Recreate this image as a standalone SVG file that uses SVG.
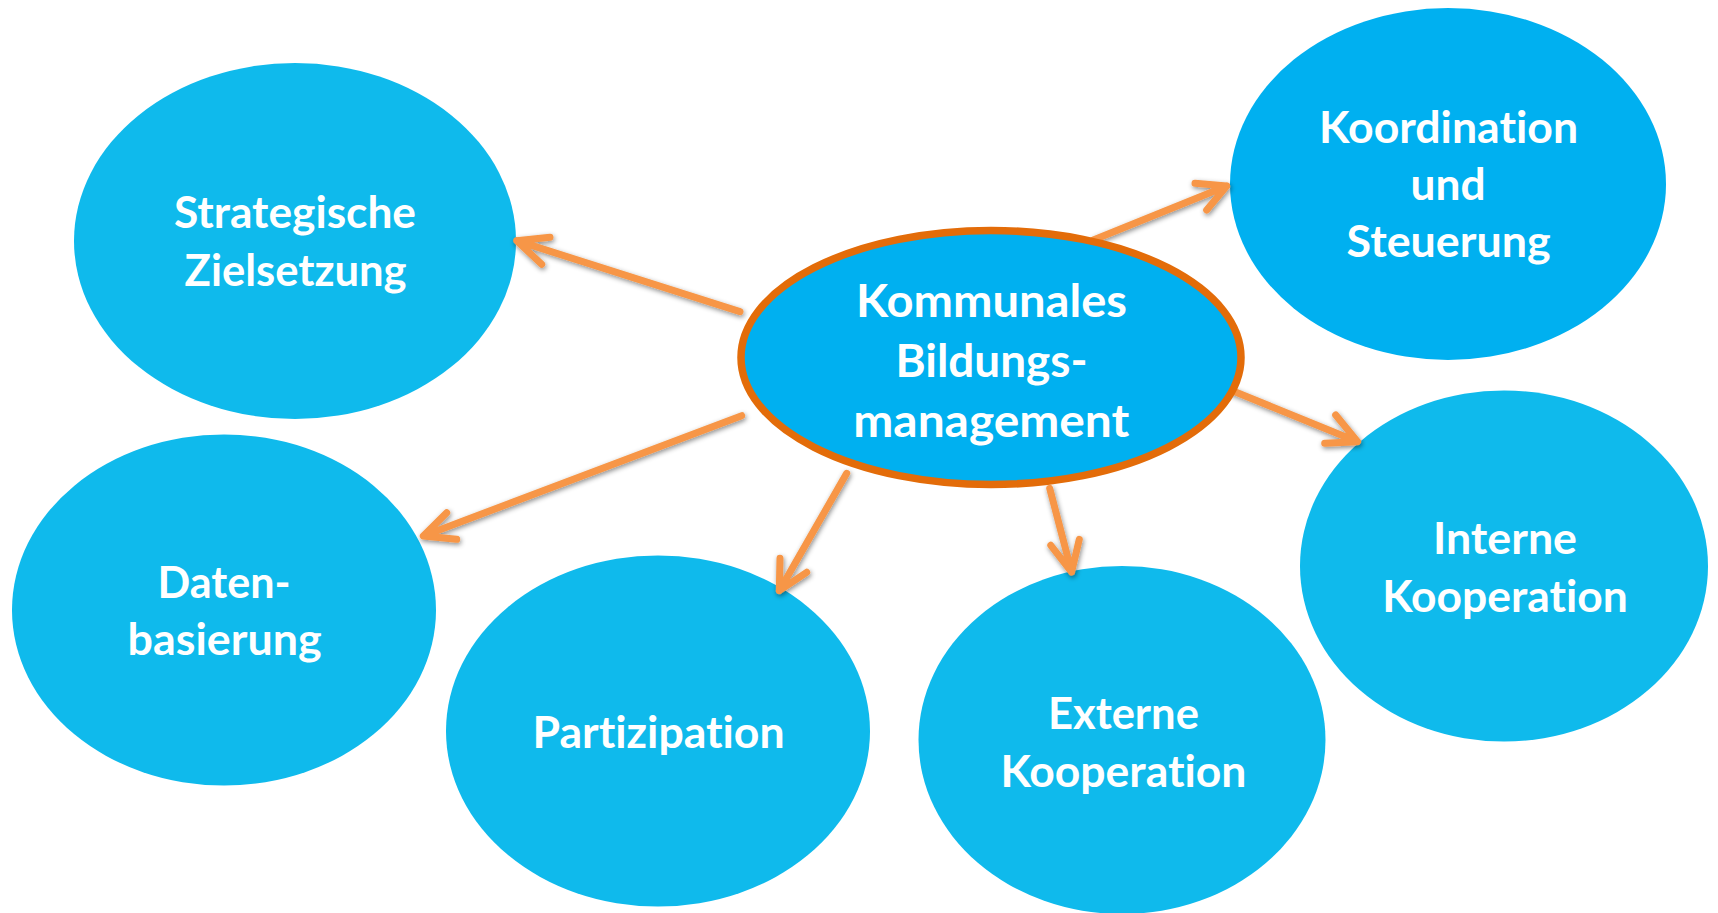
<svg xmlns="http://www.w3.org/2000/svg" width="1718" height="913" viewBox="0 0 1718 913">
<defs>
<filter id="sh" x="-20%" y="-20%" width="140%" height="140%">
<feDropShadow dx="1" dy="2" stdDeviation="2.5" flood-color="#000" flood-opacity="0.45"/>
</filter>
<style>
.n{fill:#0FBAEC}
.d{fill:#00B0F0}
.c{fill:#00B0F0;stroke:#E36C09;stroke-width:7.5}
.t{font-family:Lato,"Open Sans","Liberation Sans",sans-serif;font-weight:700;font-size:44px;fill:#fff;text-anchor:middle;font-variant-ligatures:none;font-feature-settings:"liga" 0,"clig" 0}
.tc{font-size:46px}
.a{fill:none;stroke:#F79646;stroke-width:7;stroke-linecap:round;stroke-linejoin:round}
</style>
</defs>
<rect width="1718" height="913" fill="#fff"/>
<g id="node-strategische">
<ellipse class="n" cx="295" cy="241" rx="221" ry="178"/>
<text class="t" x="295" y="228" textLength="242" lengthAdjust="spacingAndGlyphs">Strategische</text>
<text class="t" x="295.6" y="286" textLength="222" lengthAdjust="spacingAndGlyphs">Zielsetzung</text>
</g>
<g id="node-koordination">
<ellipse class="d" cx="1448" cy="184" rx="218" ry="176"/>
<text class="t" x="1448.6" y="142.7" textLength="259" lengthAdjust="spacingAndGlyphs">Koordination</text>
<text class="t" x="1448" y="200" textLength="75" lengthAdjust="spacingAndGlyphs">und</text>
<text class="t" x="1448.6" y="257.3" textLength="204" lengthAdjust="spacingAndGlyphs">Steuerung</text>
</g>
<g id="node-interne">
<ellipse class="n" cx="1504" cy="566" rx="204" ry="175.5"/>
<text class="t" x="1505" y="553.7" textLength="144" lengthAdjust="spacingAndGlyphs">Interne</text>
<text class="t" x="1505" y="611.7" textLength="245.5" lengthAdjust="spacingAndGlyphs">Kooperation</text>
</g>
<g id="node-externe">
<ellipse class="n" cx="1122" cy="740" rx="203.5" ry="174"/>
<text class="t" x="1123.4" y="729.3" textLength="151" lengthAdjust="spacingAndGlyphs">Externe</text>
<text class="t" x="1123.4" y="786.7" textLength="246" lengthAdjust="spacingAndGlyphs">Kooperation</text>
</g>
<g id="node-partizipation">
<ellipse class="n" cx="658" cy="731" rx="212" ry="175.5"/>
<text class="t" x="658.6" y="747.7" textLength="252" lengthAdjust="spacingAndGlyphs">Partizipation</text>
</g>
<g id="node-daten">
<ellipse class="n" cx="224" cy="610" rx="212" ry="175.5"/>
<text class="t" x="224" y="597.7" textLength="133" lengthAdjust="spacingAndGlyphs">Daten-</text>
<text class="t" x="224.6" y="655.3" textLength="194" lengthAdjust="spacingAndGlyphs">basierung</text>
</g>
<g id="connectors" filter="url(#sh)">
<path class="a" d="M740,311.7 L516.7,240.7 M550,237.3 L516.7,240.7 L541.7,264.3"/>
<path class="a" d="M741.7,415.7 L423.3,536 M446.7,512.7 L423.3,536 L456.7,539.3"/>
<path class="a" d="M846.7,473.3 L779.3,590.7 M780,558.3 L779.3,590.7 L806.7,572.3"/>
<path class="a" d="M1049.7,488.3 L1071.6,572 M1050.8,545.3 L1071.6,572 L1079.3,539.3"/>
<path class="a" d="M1230.5,390 L1357.6,441.7 M1335.7,415 L1357.6,441.7 L1324.7,443.3"/>
<path class="a" d="M1093.3,240 L1226.7,186 M1195,183.3 L1226.7,186 L1206.7,210"/>
</g>
<g id="node-center">
<ellipse class="c" cx="991" cy="357.5" rx="250" ry="127"/>
<text class="t tc" x="991.5" y="316.7" textLength="271" lengthAdjust="spacingAndGlyphs">Kommunales</text>
<text class="t tc" x="991.5" y="376.7" textLength="192" lengthAdjust="spacingAndGlyphs">Bildungs-</text>
<text class="t tc" x="991.3" y="436.7" textLength="276" lengthAdjust="spacingAndGlyphs">management</text>
</g>
</svg>
